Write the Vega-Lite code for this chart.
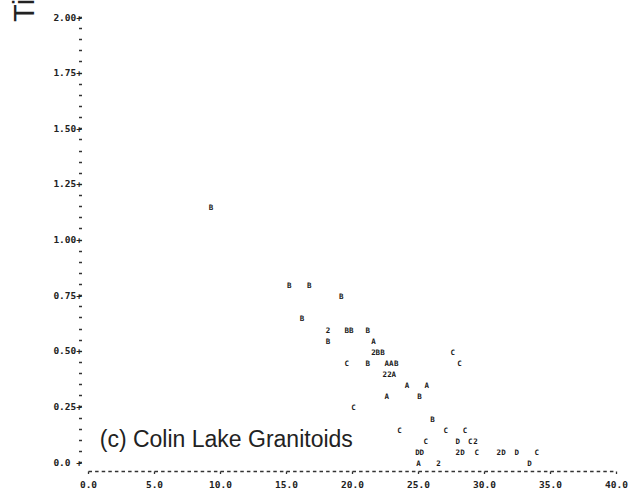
{
  "$schema": "https://vega.github.io/schema/vega-lite/v6.json",
  "width": 528,
  "height": 445,
  "autosize": {"type": "none"},
  "padding": {"left": 88, "top": 17, "right": 14, "bottom": 35},
  "background": "white",
  "config": {"view": {"stroke": null}},
  "encoding": {
    "x": {
      "field": "x",
      "type": "quantitative",
      "scale": {"domain": [0, 40], "nice": false, "zero": false},
      "axis": {
        "title": null,
        "values": [0, 5, 10, 15, 20, 25, 30, 35, 40],
        "format": ".1f",
        "grid": false,
        "offset": 9,
        "domainDash": [3.5, 3.1],
        "domainColor": "#333",
        "domainWidth": 1.3,
        "tickColor": "#333",
        "tickSize": 2.5,
        "tickWidth": 1.3,
        "labelPadding": 6,
        "labelFont": "DejaVu Sans Mono",
        "labelFontWeight": "bold",
        "labelFontSize": 9.5,
        "labelColor": "#222",
        "labelFlush": false,
        "labelOverlap": false
      }
    },
    "y": {
      "field": "y",
      "type": "quantitative",
      "scale": {"domain": [0, 2], "nice": false, "zero": false},
      "axis": {
        "title": "TiO2",
        "titleFont": "Liberation Sans",
        "titleFontSize": 29,
        "titleFontWeight": "normal",
        "titleColor": "#222",
        "titleAngle": 270,
        "titleAlign": "left",
        "titleBaseline": "alphabetic",
        "titleX": -48.5,
        "titleY": 4.5,
        "values": [0, 0.05, 0.1, 0.15, 0.2, 0.25, 0.3, 0.35, 0.4, 0.45, 0.5, 0.55, 0.6, 0.65, 0.7, 0.75, 0.8, 0.85, 0.9, 0.95, 1, 1.05, 1.1, 1.15, 1.2, 1.25, 1.3, 1.35, 1.4, 1.45, 1.5, 1.55, 1.6, 1.65, 1.7, 1.75, 1.8, 1.85, 1.9, 1.95, 2],
        "labelExpr": "round(datum.value*100) % 25 == 0 ? (datum.value == 0 ? '0.0 +' : format(datum.value, '.2f') + '+') : ''",
        "grid": false,
        "domain": false,
        "offset": 6.5,
        "tickSize": 3,
        "tickWidth": 1.5,
        "tickColor": "#333",
        "labelPadding": -3,
        "labelFont": "DejaVu Sans Mono",
        "labelFontWeight": "bold",
        "labelFontSize": 9.5,
        "labelColor": "#222",
        "labelFlush": false,
        "labelOverlap": false,
        "labelBound": false
      }
    }
  },
  "layer": [
    {
      "data": {
        "values": [
          {"label": "B", "x": 9.32, "y": 1.15},
          {"label": "B", "x": 15.25, "y": 0.80},
          {"label": "B", "x": 16.76, "y": 0.80},
          {"label": "B", "x": 19.18, "y": 0.75},
          {"label": "B", "x": 16.21, "y": 0.65},
          {"label": "2", "x": 18.18, "y": 0.60},
          {"label": "B", "x": 19.60, "y": 0.60},
          {"label": "B", "x": 19.95, "y": 0.60},
          {"label": "B", "x": 21.20, "y": 0.60},
          {"label": "B", "x": 18.18, "y": 0.55},
          {"label": "A", "x": 21.63, "y": 0.55},
          {"label": "2", "x": 21.63, "y": 0.50},
          {"label": "B", "x": 21.96, "y": 0.50},
          {"label": "B", "x": 22.31, "y": 0.50},
          {"label": "C", "x": 27.64, "y": 0.50},
          {"label": "C", "x": 19.61, "y": 0.45},
          {"label": "B", "x": 21.20, "y": 0.45},
          {"label": "A", "x": 22.64, "y": 0.45},
          {"label": "A", "x": 22.97, "y": 0.45},
          {"label": "B", "x": 23.35, "y": 0.45},
          {"label": "C", "x": 28.14, "y": 0.45},
          {"label": "2", "x": 22.49, "y": 0.40},
          {"label": "2", "x": 22.84, "y": 0.40},
          {"label": "A", "x": 23.17, "y": 0.40},
          {"label": "A", "x": 24.16, "y": 0.35},
          {"label": "A", "x": 25.67, "y": 0.35},
          {"label": "A", "x": 22.64, "y": 0.30},
          {"label": "B", "x": 25.11, "y": 0.30},
          {"label": "C", "x": 20.11, "y": 0.25},
          {"label": "B", "x": 26.09, "y": 0.20},
          {"label": "C", "x": 23.60, "y": 0.15},
          {"label": "C", "x": 27.11, "y": 0.15},
          {"label": "C", "x": 28.57, "y": 0.15},
          {"label": "C", "x": 25.59, "y": 0.10},
          {"label": "D", "x": 28.02, "y": 0.10},
          {"label": "C", "x": 28.95, "y": 0.10},
          {"label": "2", "x": 29.35, "y": 0.10},
          {"label": "D", "x": 24.96, "y": 0.05},
          {"label": "D", "x": 25.29, "y": 0.05},
          {"label": "2", "x": 28.02, "y": 0.05},
          {"label": "D", "x": 28.37, "y": 0.05},
          {"label": "C", "x": 29.46, "y": 0.05},
          {"label": "2", "x": 31.12, "y": 0.05},
          {"label": "D", "x": 31.47, "y": 0.05},
          {"label": "D", "x": 32.48, "y": 0.05},
          {"label": "C", "x": 34.00, "y": 0.05},
          {"label": "A", "x": 25.03, "y": 0.00},
          {"label": "2", "x": 26.55, "y": 0.00},
          {"label": "D", "x": 33.44, "y": 0.00}
        ]
      },
      "mark": {"type": "text", "font": "DejaVu Sans Mono", "fontWeight": "bold", "fontSize": 7.5, "dy": 2, "color": "#1a1a1a"},
      "encoding": {"text": {"field": "label"}}
    },
    {
      "data": {"values": [{"x": 0.89, "y": 0.069, "note": "(c) Colin Lake Granitoids"}]},
      "mark": {"type": "text", "align": "left", "baseline": "alphabetic", "font": "Liberation Sans", "fontSize": 23, "color": "#222"},
      "encoding": {"text": {"field": "note"}}
    }
  ]
}
